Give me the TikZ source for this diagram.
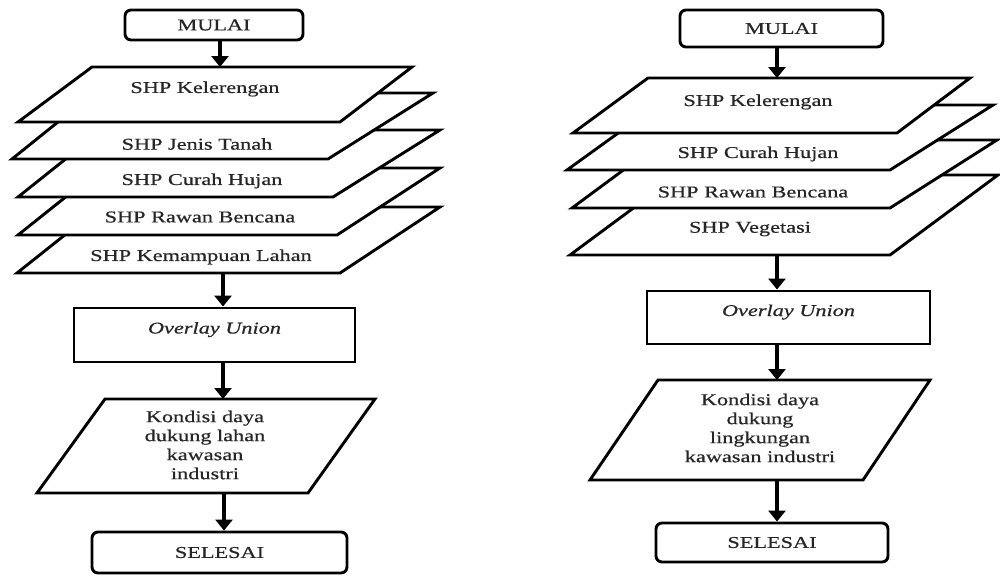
\documentclass[tikz,border=0pt]{standalone}
\usepackage{fontspec}
\setmainfont[FakeStretch=1.35,FakeBold=0.6]{Liberation Serif}
\usetikzlibrary{arrows.meta}
\begin{document}
\begin{tikzpicture}[x=1pt,y=-1pt,
  layer/.style={draw=black, line width=2.9pt, fill=white, line join=miter},
  termbox/.style={draw=black, line width=2.9pt, rounded corners=6pt, fill=white, inner sep=0pt,
    font=\fontsize{16.5}{19}\selectfont, text=black!85},
  procbox/.style={draw=black, line width=2.9pt, fill=white, inner sep=0pt,
    font=\fontsize{16.5}{19}\selectfont\itshape, text=black!85, text height=11pt, text depth=14pt},
  lbl/.style={inner sep=0pt, font=\fontsize{16.5}{19}\selectfont, text=black!85},
  outlbl/.style={inner sep=0pt, align=center, font=\fontsize{16.5}{19}\selectfont, text=black!85},
  arr/.style={line width=4.8pt, -{Triangle[width=17pt,length=11pt]}},
]
\useasboundingbox (0,0) rectangle (1000,576);

% ---------------- LEFT FLOW ----------------
\node[termbox, minimum width=178pt, minimum height=30pt] (mulaiL) at (214,25) {MULAI};

\draw[layer] (17,273) -- (100,207) -- (440,207) -- (340,273) -- cycle;
\draw[layer] (18,235) -- (102,168) -- (440,168) -- (337,235) -- cycle;
\draw[layer] (18,197) -- (102,130) -- (440,130) -- (333,197) -- cycle;
\draw[layer] (12,159) -- (94,93) -- (433,93) -- (328,159) -- cycle;
\draw[layer] (18,122) -- (92,67) -- (412,67) -- (340,122) -- cycle;

\node[lbl] (kelL) at (205,89) {SHP Kelerengan};
\node[lbl] (jenL) at (197,144) {SHP Jenis Tanah};
\node[lbl] (curL) at (202,181) {SHP Curah Hujan};
\node[lbl] (rawL) at (200,217) {SHP Rawan Bencana};
\node[lbl] (kemL) at (201,257) {SHP Kemampuan Lahan};

\coordinate (sLtop) at (220,67);
\coordinate (sLbot) at (223,273);

\node[procbox, minimum width=281pt, minimum height=54pt] (overlayL) at (214.5,335) {Overlay Union};

\coordinate (oL1) at (105,399);
\coordinate (oL2) at (375,399);
\coordinate (oL3) at (308,493);
\coordinate (oL4) at (37,493);
\draw[layer] (oL1) -- (oL2) -- (oL3) -- (oL4) -- cycle;
\node[outlbl] (outL) at (205,445) {Kondisi daya\\dukung lahan\\kawasan\\industri};
\coordinate (oLtop) at (223,399);
\coordinate (oLbot) at (224,493);

\node[termbox, minimum width=255pt, minimum height=41pt] (selL) at (219.5,552.5) {SELESAI};

\draw[arr] (mulaiL.south -| sLtop) -- (sLtop);
\draw[arr] (sLbot) -- (overlayL.north -| sLbot);
\draw[arr] (overlayL.south -| oLtop) -- (oLtop);
\draw[arr] (oLbot) -- (selL.north -| oLbot);

% ---------------- RIGHT FLOW ----------------
\node[termbox, minimum width=203pt, minimum height=37pt] (mulaiR) at (781.5,28.5) {MULAI};

\draw[layer] (570,255) -- (678,175) -- (998,175) -- (890,255) -- cycle;
\draw[layer] (572,208) -- (664,140) -- (997,140) -- (890,208) -- cycle;
\draw[layer] (567,170) -- (657,105) -- (993,105) -- (890,170) -- cycle;
\draw[layer] (573,133) -- (648,78) -- (970,78) -- (897,133) -- cycle;

\node[lbl] (kelR) at (758,102) {SHP Kelerengan};
\node[lbl] (curR) at (758,154) {SHP Curah Hujan};
\node[lbl] (rawR) at (753,192) {SHP Rawan Bencana};
\node[lbl] (vegR) at (750,229) {SHP Vegetasi};

\coordinate (sRtop) at (777,78);
\coordinate (sRbot) at (777,255);

\node[procbox, minimum width=283pt, minimum height=53pt] (overlayR) at (788.5,317.5) {Overlay Union};

\coordinate (oR1) at (658,380);
\coordinate (oR2) at (930,380);
\coordinate (oR3) at (863,480);
\coordinate (oR4) at (590,480);
\draw[layer] (oR1) -- (oR2) -- (oR3) -- (oR4) -- cycle;
\node[outlbl] (outR) at (760,428) {Kondisi daya\\dukung\\lingkungan\\kawasan industri};
\coordinate (oRtop) at (777,380);
\coordinate (oRbot) at (777,480);

\node[termbox, minimum width=232pt, minimum height=39pt] (selR) at (772,542.5) {SELESAI};

\draw[arr] (mulaiR.south -| sRtop) -- (sRtop);
\draw[arr] (sRbot) -- (overlayR.north -| sRbot);
\draw[arr] (overlayR.south -| oRtop) -- (oRtop);
\draw[arr] (oRbot) -- (selR.north -| oRbot);
\end{tikzpicture}
\end{document}
